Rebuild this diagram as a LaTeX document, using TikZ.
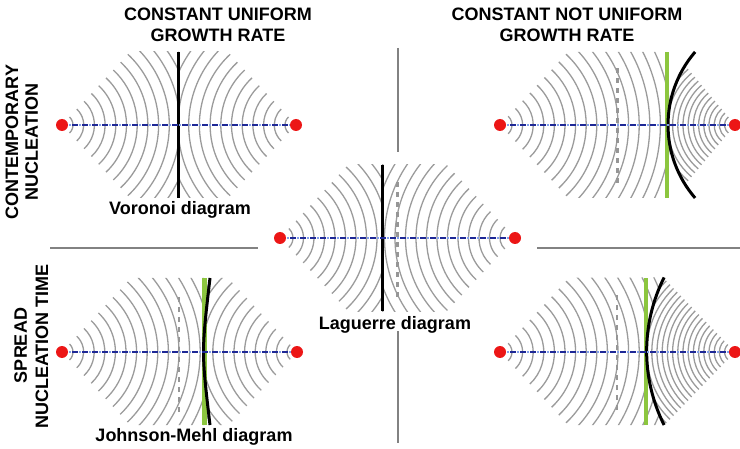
\documentclass[tikz,border=0pt]{standalone}
\usepackage{fontspec}
\setmainfont{Liberation Sans}
\definecolor{wavegray}{RGB}{155,155,155}
\definecolor{dashgray}{RGB}{150,150,150}
\definecolor{divgray}{RGB}{130,130,130}
\definecolor{lgreen}{RGB}{140,198,63}
\definecolor{nred}{RGB}{236,22,22}
\definecolor{navy}{RGB}{30,40,150}
\definecolor{lblue}{RGB}{130,160,235}
\newcommand\wavesR[6]{%
  \foreach \k in {0,...,#5}{%
    \pgfmathsetmacro\rr{#3+#4*\k}%
    \pgfmathsetmacro\aa{-#6}%
    \draw[wave] (#1,#2) ++(\aa:\rr) arc[start angle=\aa,end angle=#6,radius=\rr];}}
\newcommand\wavesL[6]{%
  \foreach \k in {0,...,#5}{%
    \pgfmathsetmacro\rr{#3+#4*\k}%
    \pgfmathsetmacro\aa{180-#6}%
    \pgfmathsetmacro\bb{180+#6}%
    \draw[wave] (#1,#2) ++(\aa:\rr) arc[start angle=\aa,end angle=\bb,radius=\rr];}}
\begin{document}
\begin{tikzpicture}[x=1pt,y=1pt,
  wave/.style={draw=wavegray,line width=1.3pt},
  bisector/.style={draw=dashgray,line width=2.6pt,dash pattern=on 5pt off 5pt},
  border/.style={draw=black,line width=3pt},
  greenline/.style={draw=lgreen,line width=4.8pt},
  divider/.style={draw=divgray,line width=1.4pt},
  nucleus/.style={circle,fill=nred,inner sep=0pt,minimum size=12pt},
  axisdash/.style={draw=navy,line width=2.2pt,dash pattern=on 5.5pt off 4.5pt},
  axisdot/.style={draw=lblue,line width=1.8pt,dash pattern=on 1.5pt off 8.5pt,dash phase=3pt},
  lbl/.style={font=\bfseries\fontsize{18}{21}\selectfont,inner sep=0pt}]
\useasboundingbox (0,0) rectangle (740,448);

% dividers
\draw[divider] (398,400) -- (398,296);
\draw[divider] (398,117) -- (398,5);
\draw[divider] (50,200) -- (258,200);
\draw[divider] (537,200) -- (740,200);

% nuclei positions
\coordinate (a1) at (62,323);  \coordinate (b1) at (296,323);
\coordinate (a2) at (280,210); \coordinate (b2) at (515,210);
\coordinate (a3) at (500,323); \coordinate (b3) at (735,323);
\coordinate (a4) at (62,96);   \coordinate (b4) at (297,96);
\coordinate (a5) at (500,96);  \coordinate (b5) at (735,96);

% ---- Voronoi (top left)
\begin{scope}\clip (40,250) rectangle (178,396); \wavesR{62}{323}{11}{10.7}{12}{47}\end{scope}
\begin{scope}\clip (178,250) rectangle (320,396); \wavesL{296}{323}{11}{10.7}{12}{47}\end{scope}
\draw[border] (178,396) -- (178,250);

% ---- Laguerre (centre)
\begin{scope}\clip (260,137) rectangle (382,283); \wavesR{280}{210}{13}{10.5}{12}{47}\end{scope}
\begin{scope}\clip (382,137) rectangle (540,283); \wavesL{515}{210}{15}{10.5}{14}{47}\end{scope}
\draw[bisector] (397.5,151) -- (397.5,270);
\draw[border] (382,137) -- (382,283);

% ---- top right
\begin{scope}
  \clip (480,250) -- (695.1,250) arc[start angle=220.7,end angle=139.3,radius=112] -- (480,396) -- cycle;
  \wavesR{500}{323}{12}{10.6}{15}{47}
\end{scope}
\begin{scope}
  \clip (695.1,250) arc[start angle=220.7,end angle=139.3,radius=112] -- (745,396) -- (745,250) -- cycle;
  \wavesL{735}{323}{5.2}{5.2}{17}{50}
\end{scope}
\draw[bisector] (617.5,265) -- (617.5,383);
\draw[greenline] (667,250) -- (667,396);
\draw[border] (695.1,250) arc[start angle=220.7,end angle=139.3,radius=112];

% ---- Johnson-Mehl (bottom left)
\begin{scope}
  \clip (40,23) -- (210,23) .. controls (201.4,96) .. (210,170) -- (40,170) -- cycle;
  \wavesR{62}{96}{11}{10.6}{14}{47}
\end{scope}
\begin{scope}
  \clip (210,23) .. controls (201.4,96) .. (210,170) -- (320,170) -- (320,23) -- cycle;
  \wavesL{297}{96}{10}{10.6}{10}{47}
\end{scope}
\draw[bisector] (179,36) -- (179,153);
\draw[greenline] (204.5,23) -- (204.5,170);
\draw[border] (210,23) .. controls (201.4,96) .. (210,170);

% ---- bottom right
\begin{scope}
  \clip (480,23) -- (664.1,23) arc[start angle=206.6,end angle=153.4,radius=164.8] -- (480,170) -- cycle;
  \wavesR{500}{96}{12}{10.6}{15}{47}
\end{scope}
\begin{scope}
  \clip (664.1,23) arc[start angle=206.6,end angle=153.4,radius=164.8] -- (745,170) -- (745,23) -- cycle;
  \wavesL{735}{96}{5.2}{5.2}{20}{46}
\end{scope}
\draw[bisector] (617,38) -- (617,155);
\draw[greenline] (646,23) -- (646,170);
\draw[border] (664.1,23) arc[start angle=206.6,end angle=153.4,radius=164.8];

% ---- axes between nuclei
\foreach \i in {1,...,5}{
  \draw[axisdash] (a\i) -- (b\i);
  \draw[axisdot] (a\i) -- (b\i);
}
% ---- nuclei
\foreach \i in {1,...,5}{
  \node[nucleus] (na\i) at (a\i) {};
  \node[nucleus] (nb\i) at (b\i) {};
}

% ---- texts
\node[lbl,anchor=base] (t1a) at (218,427.3) {CONSTANT UNIFORM};
\node[lbl,anchor=base] (t1b) at (218,406.5) {GROWTH RATE};
\node[lbl,anchor=base] (t2a) at (567,427.3) {CONSTANT NOT UNIFORM};
\node[lbl,anchor=base] (t2b) at (567,406.5) {GROWTH RATE};
\node[lbl,anchor=base,rotate=90] (s1a) at (18,306) {CONTEMPORARY};
\node[lbl,anchor=base,rotate=90] (s1b) at (38,306) {NUCLEATION};
\node[lbl,anchor=base,rotate=90] (s2a) at (27,102.5) {SPREAD};
\node[lbl,anchor=base,rotate=90] (s2b) at (48,101.5) {NUCLEATION TIME};
\node[lbl,anchor=base] (d1) at (180,233) {Voronoi diagram};
\node[lbl,anchor=base] (d2) at (395,118) {Laguerre diagram};
\node[lbl,anchor=base] (d3) at (194,6.3) {Johnson-Mehl diagram};
\end{tikzpicture}
\end{document}
